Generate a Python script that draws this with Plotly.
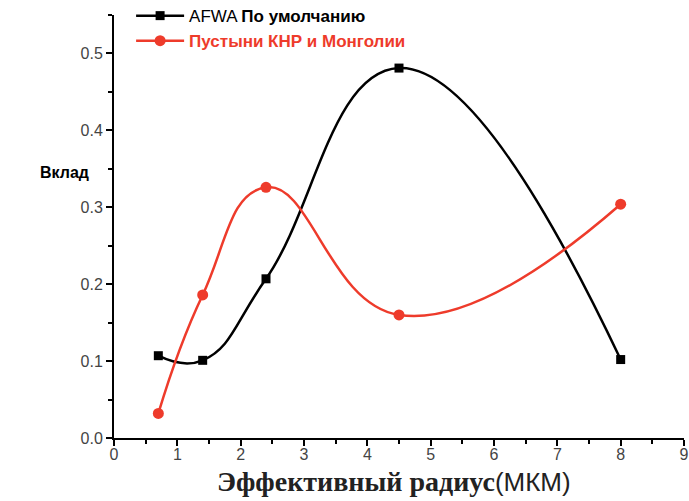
import plotly.graph_objects as go

radius = [0.7, 1.4, 2.4, 4.5, 8.0]
afwa_default = [0.107, 0.101, 0.207, 0.481, 0.102]
deserts = [0.032, 0.186, 0.326, 0.160, 0.304]
x_ticks = list(range(0, 10))
y_ticks = [0.0, 0.1, 0.2, 0.3, 0.4, 0.5]

RED = "#EE3B2B"

fig = go.Figure()
fig.add_trace(go.Scatter(
    x=radius, y=afwa_default, mode="lines+markers",
    name="AFWA <b>По умолчанию</b>",
    line=dict(color="black", width=2.5, shape="spline", smoothing=1.3),
    marker=dict(symbol="square", size=9, color="black"),
))
fig.add_trace(go.Scatter(
    x=radius, y=deserts, mode="lines+markers",
    name=f"<b><span style='color:{RED}'>Пустыни КНР и Монголии</span></b>",
    line=dict(color=RED, width=2.5, shape="spline", smoothing=1.3),
    marker=dict(symbol="circle", size=11, color=RED),
))

fig.update_layout(
    width=689, height=501,
    margin=dict(l=114, r=5, t=15, b=63, autoexpand=False),
    paper_bgcolor="white", plot_bgcolor="white",
    font=dict(family="Liberation Sans, Arial", color="#333"),
    showlegend=True,
    legend=dict(x=0.03, y=1.04, xanchor="left", yanchor="top",
                bgcolor="rgba(0,0,0,0)", font=dict(size=17, color="black"),
                tracegroupgap=0, itemwidth=48),
    xaxis=dict(range=[0, 9], tickvals=x_ticks, showgrid=False, zeroline=False,
               showline=True, linecolor="black", linewidth=2, automargin=False,
               ticks="outside", ticklen=6, tickwidth=2, tickcolor="black",
               ticklabelstandoff=-5,
               tickfont=dict(size=16, color="#444"),
               minor=dict(ticks="outside", ticklen=4, tickwidth=2, tickcolor="black", dtick=0.5)),
    yaxis=dict(range=[0, 0.55], tickvals=y_ticks, tickformat=".1f", showgrid=False, zeroline=False,
               showline=True, linecolor="black", linewidth=2, automargin=False,
               ticks="outside", ticklen=6, tickwidth=2, tickcolor="black",
               tickfont=dict(size=16, color="#444"),
               minor=dict(ticks="outside", ticklen=4, tickwidth=2, tickcolor="black", dtick=0.05)),
)

fig.add_annotation(
    text="<b>Вклад</b>", x=(64 - 114) / 570, y=(438 - 172) / 423,
    xref="paper", yref="paper", xanchor="center", yanchor="middle",
    showarrow=False, font=dict(size=16, color="black"),
)
fig.add_annotation(
    text="<b>Эффективный радиус</b><span style='font-family:Liberation Sans;font-size:26px'>(МКМ)</span>",
    x=(394 - 114) / 570, y=(438 - 481) / 423, xref="paper", yref="paper",
    xanchor="center", yanchor="middle",
    showarrow=False, font=dict(size=28, color="#222", family="Liberation Serif"),
)

fig.write_html("out.html")
